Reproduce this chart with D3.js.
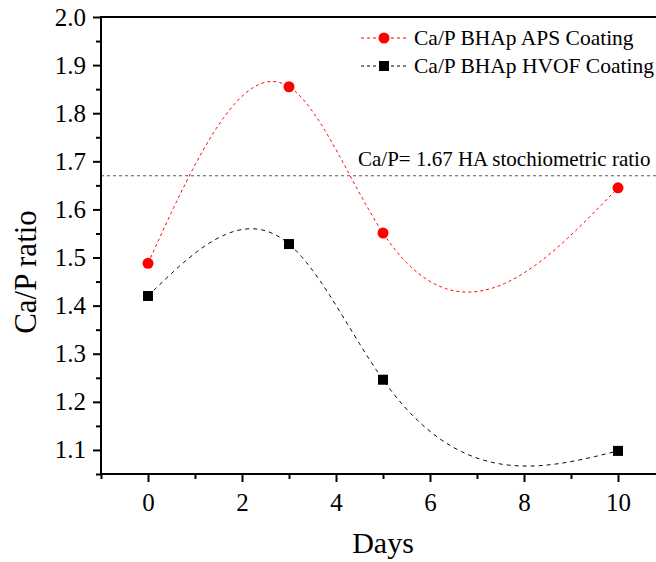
<!DOCTYPE html>
<html><head><meta charset="utf-8">
<script src="https://cdn.jsdelivr.net/npm/d3@7"></script>
<style>body{margin:0;background:#fff}svg{display:block}text{font-family:"Liberation Serif","Times New Roman",serif}</style>
</head><body><svg id="c" width="656" height="562"></svg>
<script>
const days = [0, 3, 5, 10];
const apsValues = [1.488, 1.855, 1.551, 1.645];
const hvofValues = [1.42, 1.528, 1.246, 1.098];
const seriesNames = ["Ca/P BHAp APS Coating", "Ca/P BHAp HVOF Coating"];
const refValue = 1.67;
const refLabel = "Ca/P= 1.67 HA stochiometric ratio";
const xTicks = [0, 2, 4, 6, 8, 10];
const yTicks = [1.1, 1.2, 1.3, 1.4, 1.5, 1.6, 1.7, 1.8, 1.9, 2.0];

const svg = d3.select("#c");
const L = 101, T = 17, B = 474;
const x = d3.scaleLinear().domain([-1, 11]).range([L, L + 12 * 47]);
const y = d3.scaleLinear().domain([1.05, 2.0]).range([B, T]);

// natural cubic spline curve y(x) as a custom d3 curve
function SplineX(context) { this._context = context; }
SplineX.prototype = {
  areaStart() {}, areaEnd() {},
  lineStart() { this._x = []; this._y = []; },
  point(px, py) { this._x.push(+px); this._y.push(+py); },
  lineEnd() {
    const X = this._x, Y = this._y, n = X.length, ctx = this._context;
    if (n < 3) { X.forEach((v, i) => i ? ctx.lineTo(v, Y[i]) : ctx.moveTo(v, Y[i])); return; }
    const h = [], M = new Array(n).fill(0);
    for (let i = 0; i < n - 1; i++) h.push(X[i + 1] - X[i]);
    const a = [], b = [], c = [], d = [];
    for (let i = 1; i < n - 1; i++) {
      a.push(h[i - 1]); b.push(2 * (h[i - 1] + h[i])); c.push(h[i]);
      d.push(6 * ((Y[i + 1] - Y[i]) / h[i] - (Y[i] - Y[i - 1]) / h[i - 1]));
    }
    const m = b.length;
    for (let i = 1; i < m; i++) { const w = a[i] / b[i - 1]; b[i] -= w * c[i - 1]; d[i] -= w * d[i - 1]; }
    const sol = new Array(m);
    sol[m - 1] = d[m - 1] / b[m - 1];
    for (let i = m - 2; i >= 0; i--) sol[i] = (d[i] - c[i] * sol[i + 1]) / b[i];
    for (let i = 0; i < m; i++) M[i + 1] = sol[i];
    ctx.moveTo(X[0], Y[0]);
    for (let i = 0; i < n - 1; i++) {
      const steps = 60;
      for (let s = 1; s <= steps; s++) {
        const t = X[i] + h[i] * s / steps;
        const A = (X[i + 1] - t) / h[i], Bc = (t - X[i]) / h[i];
        const v = A * Y[i] + Bc * Y[i + 1] + ((A * A * A - A) * M[i] + (Bc * Bc * Bc - Bc) * M[i + 1]) * h[i] * h[i] / 6;
        ctx.lineTo(t, v);
      }
    }
  }
};
const splineCurve = ctx => new SplineX(ctx);
const line = d3.line().x(d => x(d[0])).y(d => y(d[1])).curve(splineCurve);

// reference line
svg.append("line").attr("x1", L).attr("x2", 656).attr("y1", y(refValue)).attr("y2", y(refValue))
  .attr("stroke", "#555").attr("stroke-width", 1.2).attr("stroke-dasharray", "3,3");
svg.append("text").attr("x", 358).attr("y", y(refValue) - 10).attr("font-size", 21).text(refLabel);

// series
const aps = days.map((d, i) => [d, apsValues[i]]);
const hvof = days.map((d, i) => [d, hvofValues[i]]);
svg.append("path").attr("d", line(aps)).attr("fill", "none").attr("stroke", "#ff0000")
  .attr("stroke-width", 1).attr("stroke-dasharray", "3,3");
svg.append("path").attr("d", line(hvof)).attr("fill", "none").attr("stroke", "#000")
  .attr("stroke-width", 1).attr("stroke-dasharray", "4,4");
svg.selectAll(".c").data(aps).enter().append("circle")
  .attr("cx", d => x(d[0])).attr("cy", d => y(d[1])).attr("r", 5.5).attr("fill", "#ff0000");
svg.selectAll(".s").data(hvof).enter().append("rect")
  .attr("x", d => x(d[0]) - 5).attr("y", d => y(d[1]) - 5).attr("width", 10).attr("height", 10).attr("fill", "#000");

// axes
const xAxisG = svg.append("g").attr("transform", `translate(0,${B})`);
xAxisG.call(d3.axisBottom(x).tickValues(xTicks).tickSize(8).tickPadding(11).tickFormat(d3.format("d")));
const xMinor = svg.append("g").attr("transform", `translate(0,${B})`)
  .call(d3.axisBottom(x).tickValues([-1, 1, 3, 5, 7, 9, 11]).tickSize(5).tickFormat(""));
const yAxisG = svg.append("g").attr("transform", `translate(${L},0)`);
yAxisG.call(d3.axisLeft(y).tickValues(yTicks).tickSize(8).tickPadding(7).tickFormat(d3.format(".1f")));
const yMinor = svg.append("g").attr("transform", `translate(${L},0)`)
  .call(d3.axisLeft(y).tickValues([1.05, 1.15, 1.25, 1.35, 1.45, 1.55, 1.65, 1.75, 1.85, 1.95]).tickSize(5).tickFormat(""));
[xAxisG, xMinor, yAxisG, yMinor].forEach(g => {
  g.attr("font-size", 25).attr("font-family", "Liberation Serif");
  g.selectAll(".tick line").attr("stroke-width", 2);
  g.selectAll("text").style("font-size", "25px").attr("fill", "#000");
  g.select(".domain").remove();
});
svg.append("line").attr("x1", L - 1).attr("x2", 656).attr("y1", B).attr("y2", B).attr("stroke", "#000").attr("stroke-width", 2);
svg.append("line").attr("x1", L).attr("x2", L).attr("y1", T - 1).attr("y2", B + 1).attr("stroke", "#000").attr("stroke-width", 2);
svg.append("line").attr("x1", L - 1).attr("x2", 656).attr("y1", T).attr("y2", T).attr("stroke", "#000").attr("stroke-width", 2);

// axis titles
svg.append("text").attr("x", x(5)).attr("y", 553).attr("text-anchor", "middle").attr("font-size", 30).text("Days");
svg.append("text").attr("transform", `translate(36,272) rotate(-90)`).attr("text-anchor", "middle")
  .attr("font-size", 31).text("Ca/P ratio");

// legend
const leg = [{ name: seriesNames[0], color: "#ff0000", shape: "circle", dash: "3,3" },
             { name: seriesNames[1], color: "#000", shape: "square", dash: "3,3" }];
leg.forEach((l, i) => {
  const ly = 38 + i * 28;
  svg.append("line").attr("x1", 361).attr("x2", 408).attr("y1", ly).attr("y2", ly)
    .attr("stroke", l.color).attr("stroke-width", 1).attr("stroke-dasharray", l.dash);
  if (l.shape === "circle") svg.append("circle").attr("cx", 384).attr("cy", ly).attr("r", 5.5).attr("fill", l.color);
  else svg.append("rect").attr("x", 379).attr("y", ly - 5).attr("width", 10).attr("height", 10).attr("fill", l.color);
  svg.append("text").attr("x", 414).attr("y", ly + 7).attr("font-size", 21.5).text(l.name);
});
</script></body></html>
